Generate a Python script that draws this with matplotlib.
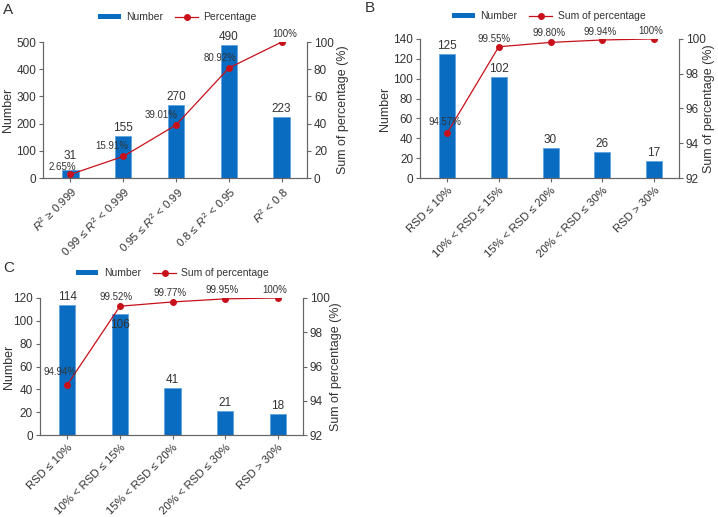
import matplotlib
matplotlib.use('Agg')
import matplotlib.pyplot as plt
import matplotlib.transforms as mtransforms
from matplotlib.lines import Line2D
from matplotlib.patches import Patch

plt.rcParams['font.family'] = ['Liberation Sans', 'DejaVu Sans']
plt.rcParams['mathtext.fontset'] = 'custom'
plt.rcParams['mathtext.it'] = 'Liberation Sans:italic'
plt.rcParams['mathtext.rm'] = 'Liberation Sans'

# data
cats_a = [r'$R^2$ ≥ 0.999', r'0.99 ≤ $R^2$ < 0.999', r'0.95 ≤ $R^2$ < 0.99',
          r'0.8 ≤ $R^2$ < 0.95', r'$R^2$ < 0.8']
counts_a = [31, 155, 270, 490, 223]
pcts_a = [2.65, 15.91, 39.01, 80.92, 100]

cats_rsd = ['RSD ≤ 10%', '10% < RSD ≤ 15%', '15% < RSD ≤ 20%',
            '20% < RSD ≤ 30%', 'RSD > 30%']
counts_b = [125, 102, 30, 26, 17]
pcts_b = [94.57, 99.55, 99.80, 99.94, 100]
counts_c = [114, 106, 41, 21, 18]
pcts_c = [94.94, 99.52, 99.77, 99.95, 100]

BLUE = '#0a6cc0'
RED = '#c8101a'
TXT = '#333333'
SPINE = '#666666'
W, H = 718, 517


def panel(rect, letter, cats, counts, pcts, ymax, ystep, pmin, pstep,
          line_name, pct_off, cnt_off, leg_xy, lab_px):
    ax = fig.add_axes(rect)
    x = list(range(len(cats)))
    ax.bar(x, counts, width=0.31, color=BLUE, edgecolor='#5fa4e0',
           linewidth=0.6, zorder=2)
    ax.set_xlim(-0.52, len(cats) - 0.52)
    ax.set_ylim(0, ymax)
    ax.set_yticks(range(0, ymax + 1, ystep))
    ax.set_xticks(x)
    ax.set_xticklabels(cats, rotation=45, ha='right', rotation_mode='anchor')
    ax.set_ylabel('Number', fontsize=9, color=TXT)
    ax.spines['top'].set_visible(False)
    for s in ['left', 'right', 'bottom']:
        ax.spines[s].set_color(SPINE)
    ax.tick_params(colors=SPINE, labelcolor=TXT, labelsize=8.5, length=3,
                   width=0.8, pad=2)
    ax.tick_params(axis='x', labelsize=8.2)
    for i, c in enumerate(counts):
        dy = cnt_off[i]
        ax.annotate(str(c), (i, c), xytext=(0, dy), textcoords='offset pixels',
                    ha='center', va='bottom' if dy >= 0 else 'center',
                    fontsize=8.5, color=TXT, zorder=5)

    ax2 = ax.twinx()
    ax2.plot(x, pcts, color=RED, lw=0.9, marker='o', ms=4, zorder=4)
    ax2.set_ylim(pmin, 100)
    ax2.set_yticks(range(pmin, 101, pstep))
    ax2.set_ylabel('Sum of percentage (%)', fontsize=9, color=TXT)
    ax2.spines['top'].set_visible(False)
    for s in ['left', 'right', 'bottom']:
        ax2.spines[s].set_color(SPINE)
    ax2.tick_params(colors=SPINE, labelcolor=TXT, labelsize=8.5, length=3,
                    width=0.8, pad=2)
    for i, p in enumerate(pcts):
        lab = '100%' if p == 100 else f'{p:.2f}%'
        ox, oy = pct_off[i]
        ax2.annotate(lab, (i, p), xytext=(ox, oy), textcoords='offset pixels',
                     ha='center', va='center', fontsize=7, color=TXT, zorder=5)

    # axis label positions (figure pixels)
    tr = mtransforms.blended_transform_factory(fig.transFigure, ax.transAxes)
    ax.yaxis.set_label_coords(lab_px[0] / W, 0.5, transform=tr)
    ax2.yaxis.set_label_coords(lab_px[1] / W, 0.5, transform=tr)
    ax.yaxis.label.set_va('center')
    ax2.yaxis.label.set_va('center')

    handles = [Patch(facecolor=BLUE, linewidth=0, label='Number'),
               Line2D([], [], color=RED, lw=0.9, marker='o', ms=4,
                      label=line_name)]
    leg = ax2.legend(handles=handles, loc='center', ncol=2, frameon=False,
                     bbox_to_anchor=leg_xy, bbox_transform=fig.transFigure,
                     fontsize=7.5, handlelength=2.2, handleheight=0.35,
                     columnspacing=1.2, handletextpad=0.5)
    for t in leg.get_texts():
        t.set_color(TXT)
    fig.text(letter[1], letter[2], letter[0], fontsize=11, color=TXT,
             ha='left', va='center')
    return ax


fig = plt.figure(figsize=(7.18, 5.17), dpi=100)

panel([0.0599, 0.6557, 0.3677, 0.263], ('A', 0.004, 0.98), cats_a, counts_a,
      pcts_a, 500, 100, 0, 20, 'Percentage',
      [(-8, 7), (-11, 10), (-15, 10), (-9, 10), (3, 8)],
      [8, 2, 2, 2, 2], (0.247, 0.967), (8, 343))
panel([0.585, 0.6557, 0.3607, 0.269], ('B', 0.508, 0.984), cats_rsd, counts_b,
      pcts_b, 140, 20, 92, 2, 'Sum of percentage',
      [(-2, 11), (-5, 8), (-1, 9), (-2, 8), (-3, 8)],
      [2, 2, 2, 2, 2], (0.764, 0.969), (385, 709))
panel([0.0557, 0.1586, 0.3663, 0.265], ('C', 0.004, 0.482), cats_rsd, counts_c,
      pcts_c, 120, 20, 92, 2, 'Sum of percentage',
      [(-7, 13), (-4, 9), (-2, 9), (-3, 9), (-3, 8)],
      [2, -11, 2, 2, 2], (0.240, 0.472), (9, 336))

fig.savefig('out.png', dpi=100)
